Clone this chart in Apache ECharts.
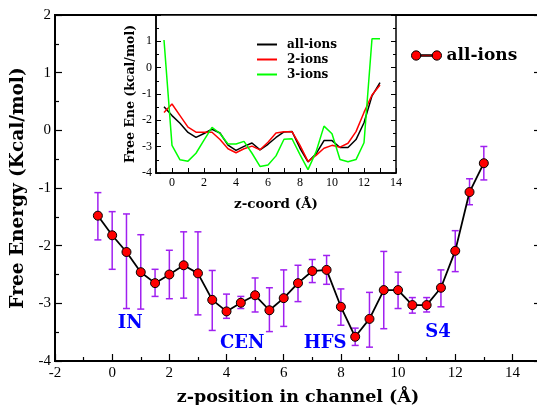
<!DOCTYPE html>
<html><head><meta charset="utf-8">
<script src="https://cdn.jsdelivr.net/npm/echarts@6/dist/echarts.min.js"></script>
<style>html,body{margin:0;padding:0;background:#fff}#c{width:537px;height:405px}</style>
</head><body><div id="c"></div>
<script>
const zPos = [-0.5,0,0.5,1,1.5,2,2.5,3,3.5,4,4.5,5,5.5,6,6.5,7,7.5,8,8.5,9,9.5,10,10.5,11,11.5,12,12.5,13];
const allIons = [-1.48,-1.82,-2.11,-2.46,-2.65,-2.50,-2.34,-2.48,-2.94,-3.14,-2.99,-2.86,-3.12,-2.91,-2.65,-2.44,-2.42,-3.06,-3.58,-3.27,-2.77,-2.77,-3.03,-3.03,-2.73,-2.09,-1.07,-0.57];
const errHigh = [-1.08,-1.41,-1.45,-1.81,-2.41,-2.08,-1.76,-1.76,-2.43,-2.84,-2.88,-2.56,-2.73,-2.42,-2.34,-2.24,-2.17,-2.75,-3.43,-2.81,-2.10,-2.46,-2.90,-2.90,-2.42,-1.74,-0.84,-0.28];
const errLow = [-1.90,-2.41,-3.09,-3.10,-2.88,-2.92,-2.91,-3.20,-3.47,-3.26,-3.09,-3.15,-3.49,-3.40,-2.97,-2.64,-2.67,-3.38,-3.73,-3.76,-3.44,-3.09,-3.17,-3.15,-3.06,-2.45,-1.29,-0.86];
const ions2 = [-1.70,-1.38,-1.82,-2.26,-2.45,-2.45,-2.45,-2.73,-3.08,-3.23,-3.08,-2.98,-3.12,-2.83,-2.48,-2.43,-2.43,-2.95,-3.56,-3.33,-3.06,-2.95,-3.02,-2.87,-2.43,-1.70,-1.04,-0.66];
const ions3 = [1.05,-2.95,-3.50,-3.55,-3.25,-2.75,-2.27,-2.50,-2.90,-2.90,-2.80,-3.25,-3.75,-3.70,-3.35,-2.72,-2.70,-3.30,-3.87,-3.20,-2.22,-2.51,-3.49,-3.57,-3.49,-2.85,1.10,1.10];
const siteNames = ['IN','CEN','HFS','S4'];
const siteX = [0.63,4.55,7.45,11.4];
const siteY = [-3.35,-3.70,-3.70,-3.51];

const NUM = 'Liberation Serif';
const BOLD = 'DejaVu Serif';
const chart = echarts.init(document.getElementById('c'), null, {renderer:'canvas'});
const pairs = (ys) => zPos.map((x,i)=>[x, ys[i]]);
const evenFmt = v => (Math.abs(v % 2) < 1e-9 ? String(v) : '');

const option = {
  animation: false,
  backgroundColor: '#fff',
  textStyle: {fontFamily: NUM},
  grid: [
    {left: 55, top: 15, width: 486, height: 346, show: true, borderColor: '#000', borderWidth: 2,
     backgroundColor: 'transparent', containLabel: false, outerBoundsMode: 'none'},
    {left: 156, top: 15, width: 240, height: 158, show: true, borderColor: '#000', borderWidth: 1.5,
     backgroundColor: '#fff', containLabel: false, outerBoundsMode: 'none'}
  ],
  xAxis: [
    {gridIndex: 0, type: 'value', min: -2, max: 15, interval: 2,
     axisLine: {onZero: false, lineStyle: {color: '#000', width: 2}},
     axisTick: {inside: true, length: 7, lineStyle: {color: '#000', width: 1.2}},
     minorTick: {show: true, splitNumber: 2, length: 4, lineStyle: {color: '#000', width: 1.2}},
     splitLine: {show: false},
     axisLabel: {color: '#000', fontSize: 15, fontFamily: NUM, margin: 5, formatter: v => (v > 14 ? '' : String(v))},
     name: 'z-position in channel (Å)', nameLocation: 'middle', nameGap: 27,
     nameTextStyle: {color: '#000', fontSize: 17.5, fontWeight: 'bold', fontFamily: BOLD}},
    {gridIndex: 1, type: 'value', min: -1, max: 14, interval: 1,
     axisLine: {onZero: false, lineStyle: {color: '#000', width: 1.5}},
     axisTick: {inside: true, length: 5, interval: 0, lineStyle: {color: '#000', width: 1}},
     splitLine: {show: false},
     axisLabel: {color: '#000', fontSize: 12, fontFamily: NUM, margin: 4, formatter: v => (v >= 0 ? evenFmt(v) : '')},
     name: 'z-coord (Å)', nameLocation: 'middle', nameGap: 24,
     nameTextStyle: {color: '#000', fontSize: 13.5, fontWeight: 'bold', fontFamily: BOLD}}
  ],
  yAxis: [
    {gridIndex: 0, type: 'value', min: -4, max: 2, interval: 1,
     axisLine: {onZero: false, lineStyle: {color: '#000', width: 2}},
     axisTick: {inside: true, length: 7, lineStyle: {color: '#000', width: 1.2}},
     minorTick: {show: true, splitNumber: 2, length: 4, lineStyle: {color: '#000', width: 1.2}},
     splitLine: {show: false},
     axisLabel: {color: '#000', fontSize: 15, fontFamily: NUM, margin: 4},
     name: 'Free Energy (Kcal/mol)', nameLocation: 'middle', nameGap: 22,
     nameTextStyle: {color: '#000', fontSize: 18.5, fontWeight: 'bold', fontFamily: BOLD}},
    {gridIndex: 0, type: 'value', min: -4, max: 2, interval: 1, position: 'right',
     axisLine: {show: false, onZero: false},
     axisTick: {inside: true, length: 7, lineStyle: {color: '#000', width: 1.2}},
     splitLine: {show: false}, axisLabel: {show: false}},
    {gridIndex: 1, type: 'value', min: -4, max: 2, interval: 1,
     axisLine: {onZero: false, lineStyle: {color: '#000', width: 1.5}},
     axisTick: {inside: true, length: 5, lineStyle: {color: '#000', width: 1}},
     minorTick: {show: true, splitNumber: 2, length: 3, lineStyle: {color: '#000', width: 1}},
     splitLine: {show: false},
     axisLabel: {color: '#000', fontSize: 12, fontFamily: NUM, margin: 4, formatter: v => (v >= 2 ? '' : String(v))},
     name: 'Free Ene (kcal/mol)', nameLocation: 'middle', nameGap: 19,
     nameTextStyle: {color: '#000', fontSize: 12.5, fontWeight: 'bold', fontFamily: BOLD}},
    {gridIndex: 1, type: 'value', min: -4, max: 2, interval: 1, position: 'right',
     axisLine: {show: false, onZero: false},
     axisTick: {inside: true, length: 5, lineStyle: {color: '#000', width: 1}},
     minorTick: {show: true, splitNumber: 2, length: 3, lineStyle: {color: '#000', width: 1}},
     splitLine: {show: false}, axisLabel: {show: false}}
  ],
  legend: [
    {data: ['all-ions'], left: 411, top: 47, padding: 0, itemWidth: 30, itemHeight: 10,
     icon: 'path://M0.5,5A4.5,4.5,0,1,1,9.5,5A4.5,4.5,0,1,1,0.5,5Z M9.5,4.3L20.5,4.3L20.5,5.7L9.5,5.7Z M20.5,5A4.5,4.5,0,1,1,29.5,5A4.5,4.5,0,1,1,20.5,5Z',
     itemStyle: {color: '#ff0000', borderColor: '#000', borderWidth: 1},
     textStyle: {color: '#000', fontSize: 17, fontWeight: 'bold', fontFamily: BOLD},
     selectedMode: false},
    {data: ['all-ions (inset)', '2-ions', '3-ions'], orient: 'vertical', left: 257, top: 38, padding: 0,
     itemWidth: 20, itemHeight: 2, itemGap: 2, icon: 'path://M0,0L20,0L20,2L0,2Z',
     formatter: n => n.replace(' (inset)', ''),
     textStyle: {color: '#000', fontSize: 12, fontWeight: 'bold', fontFamily: BOLD, padding: [0,0,0,5], lineHeight: 13},
     selectedMode: false}
  ],
  series: [
    {type: 'custom', name: 'errors', xAxisIndex: 0, yAxisIndex: 0, z: 3,
     data: zPos.map((x,i)=>[x, errLow[i], errHigh[i]]),
     encode: {x: 0, y: [1, 2]},
     renderItem: function (params, api) {
       const x = api.value(0);
       const pLo = api.coord([x, api.value(1)]);
       const pHi = api.coord([x, api.value(2)]);
       const w = 3.5;
       const st = {stroke: '#a020f0', lineWidth: 1.5};
       return {type: 'group', children: [
         {type: 'line', shape: {x1: pLo[0], y1: pLo[1], x2: pHi[0], y2: pHi[1]}, style: st},
         {type: 'line', shape: {x1: pLo[0]-w, y1: pLo[1], x2: pLo[0]+w, y2: pLo[1]}, style: st},
         {type: 'line', shape: {x1: pHi[0]-w, y1: pHi[1], x2: pHi[0]+w, y2: pHi[1]}, style: st}
       ]};
     }},
    {type: 'line', name: 'all-ions', xAxisIndex: 0, yAxisIndex: 0, z: 5,
     data: pairs(allIons), symbol: 'circle', symbolSize: 9, showAllSymbol: true,
     color: '#ff0000',
     itemStyle: {color: '#ff0000', borderColor: '#000', borderWidth: 1},
     lineStyle: {color: '#000', width: 1.8}},
    {type: 'scatter', name: 'sites', xAxisIndex: 0, yAxisIndex: 0, symbolSize: 0, z: 6,
     itemStyle: {opacity: 1},
     data: siteNames.map((n,i)=>({name: n, value: [siteX[i], siteY[i]]})),
     label: {show: true, position: 'inside', formatter: p => p.name, color: '#0000ff', opacity: 1,
             textBorderWidth: 0, fontSize: 18, fontWeight: 'bold', fontFamily: BOLD}},
    {type: 'line', name: 'all-ions (inset)', xAxisIndex: 1, yAxisIndex: 2, z: 4,
     data: pairs(allIons), symbol: 'none', color: '#000', lineStyle: {color: '#000', width: 1.5}},
    {type: 'line', name: '2-ions', xAxisIndex: 1, yAxisIndex: 2, z: 4,
     data: pairs(ions2), symbol: 'none', color: '#ff0000', lineStyle: {color: '#ff0000', width: 1.5}},
    {type: 'line', name: '3-ions', xAxisIndex: 1, yAxisIndex: 2, z: 4,
     data: pairs(ions3), symbol: 'none', color: '#00ff00', lineStyle: {color: '#00ff00', width: 1.5}}
  ]
};
chart.setOption(option);
</script>
</body></html>
